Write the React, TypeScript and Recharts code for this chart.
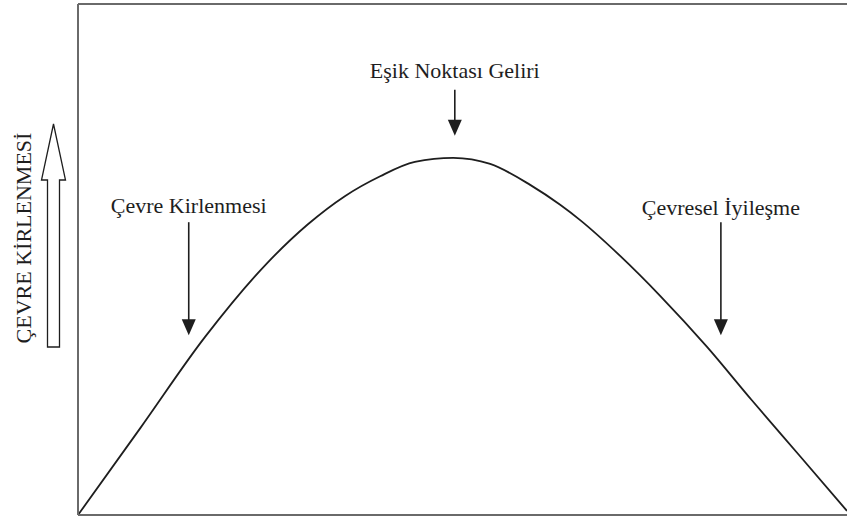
import { LineChart, Line, XAxis, YAxis, ReferenceLine, ReferenceDot } from "recharts";

// gelir (x) vs çevre kirlenmesi (y), both in 0-100 units
const incomeLevels = [0, 8.1, 16.5, 24.6, 29.9, 34.7, 39.3, 43.8, 48.8, 53.6, 58.8, 62.7, 65.3, 70.5, 75.7, 81.8, 87.6, 93.9, 100];
const pollutionLevels = [0, 17.0, 34.8, 49.3, 56.9, 62.4, 66.3, 69.1, 69.9, 68.7, 64.6, 60.7, 57.7, 50.7, 42.9, 32.9, 22.5, 11.5, 0.8];

const noteLabels = ["Çevre Kirlenmesi", "Eşik Noktası Geliri", "Çevresel İyileşme"];
const noteX = [14.4, 49.0, 83.6];
const noteLabelY = [59.1, 85.5, 58.7];
const noteArrowFrom = [57.3, 83.2, 57.3];
const noteArrowTo = [35.2, 74.2, 35.2];

const yAxisTitle = "ÇEVRE KİRLENMESİ";

const data = incomeLevels.map((income, i) => ({ income, pollution: pollutionLevels[i] }));

const FONT = '"Liberation Serif", Tinos, "Times New Roman", "DejaVu Serif", serif';
const INK = "#1e1e1e";
const FRAME = "#6a6a6a";

function DownArrow(props: any) {
  const { x1, y1, x2, y2 } = props;
  const head = 16;
  return (
    <g>
      <line x1={x1} y1={y1} x2={x2} y2={y2 - head + 1} stroke={INK} strokeWidth={1.6} />
      <path d={`M${x2 - 7},${y2 - head} L${x2 + 7},${y2 - head} L${x2},${y2} Z`} fill={INK} />
    </g>
  );
}

function NoteText(label: string) {
  return (props: any) => (
    <text x={props.cx} y={props.cy} textAnchor="middle" style={{ fontFamily: FONT, fontSize: 22 }} fill={INK}>
      {label}
    </text>
  );
}

function AxisCaption(props: any) {
  const vb = props.viewBox || { x: 0, y: 0 };
  const x0 = vb.x;
  const y0 = vb.y;
  const tx = x0 + 31;
  const ty = y0 + 234;
  return (
    <g>
      <text
        x={tx}
        y={ty}
        transform={`rotate(-90 ${tx} ${ty})`}
        textAnchor="middle"
        style={{ fontFamily: FONT, fontSize: 22 }}
        fill={INK}
      >
        {yAxisTitle}
      </text>
      <path
        d={`M${x0 + 47.5},${y0 + 343} L${x0 + 59.5},${y0 + 343} L${x0 + 59.5},${y0 + 176} L${x0 + 65.5},${y0 + 176} L${x0 + 53.5},${y0 + 120} L${x0 + 41.5},${y0 + 176} L${x0 + 47.5},${y0 + 176} Z`}
        fill="#fff"
        stroke={INK}
        strokeWidth={1.3}
      />
    </g>
  );
}

export default function App() {
  return (
    <div style={{ position: "fixed", left: 0, top: 0, width: 847, height: 517, overflow: "hidden", background: "#fff" }}>
      <LineChart width={847} height={517} data={data} margin={{ top: 4, right: 0, bottom: 1, left: 0 }}>
        <XAxis
          type="number"
          dataKey="income"
          domain={[0, 100]}
          tick={false}
          tickLine={false}
          height={1}
          axisLine={{ stroke: FRAME, strokeWidth: 2 }}
        />
        <YAxis
          type="number"
          domain={[0, 100]}
          width={78}
          tick={false}
          tickLine={false}
          axisLine={{ stroke: FRAME, strokeWidth: 2 }}
          label={<AxisCaption />}
        />
        <ReferenceLine y={100} stroke={FRAME} strokeWidth={2} />
        <Line
          type="monotone"
          dataKey="pollution"
          stroke={INK}
          strokeWidth={1.8}
          dot={false}
          activeDot={false}
          isAnimationActive={false}
        />
        {noteLabels.map((label, i) => (
          <ReferenceLine
            key={"arrow" + i}
            segment={[
              { x: noteX[i], y: noteArrowFrom[i] },
              { x: noteX[i], y: noteArrowTo[i] },
            ]}
            shape={DownArrow}
          />
        ))}
        {noteLabels.map((label, i) => (
          <ReferenceDot key={"note" + i} x={noteX[i]} y={noteLabelY[i]} shape={NoteText(label)} />
        ))}
      </LineChart>
    </div>
  );
}
